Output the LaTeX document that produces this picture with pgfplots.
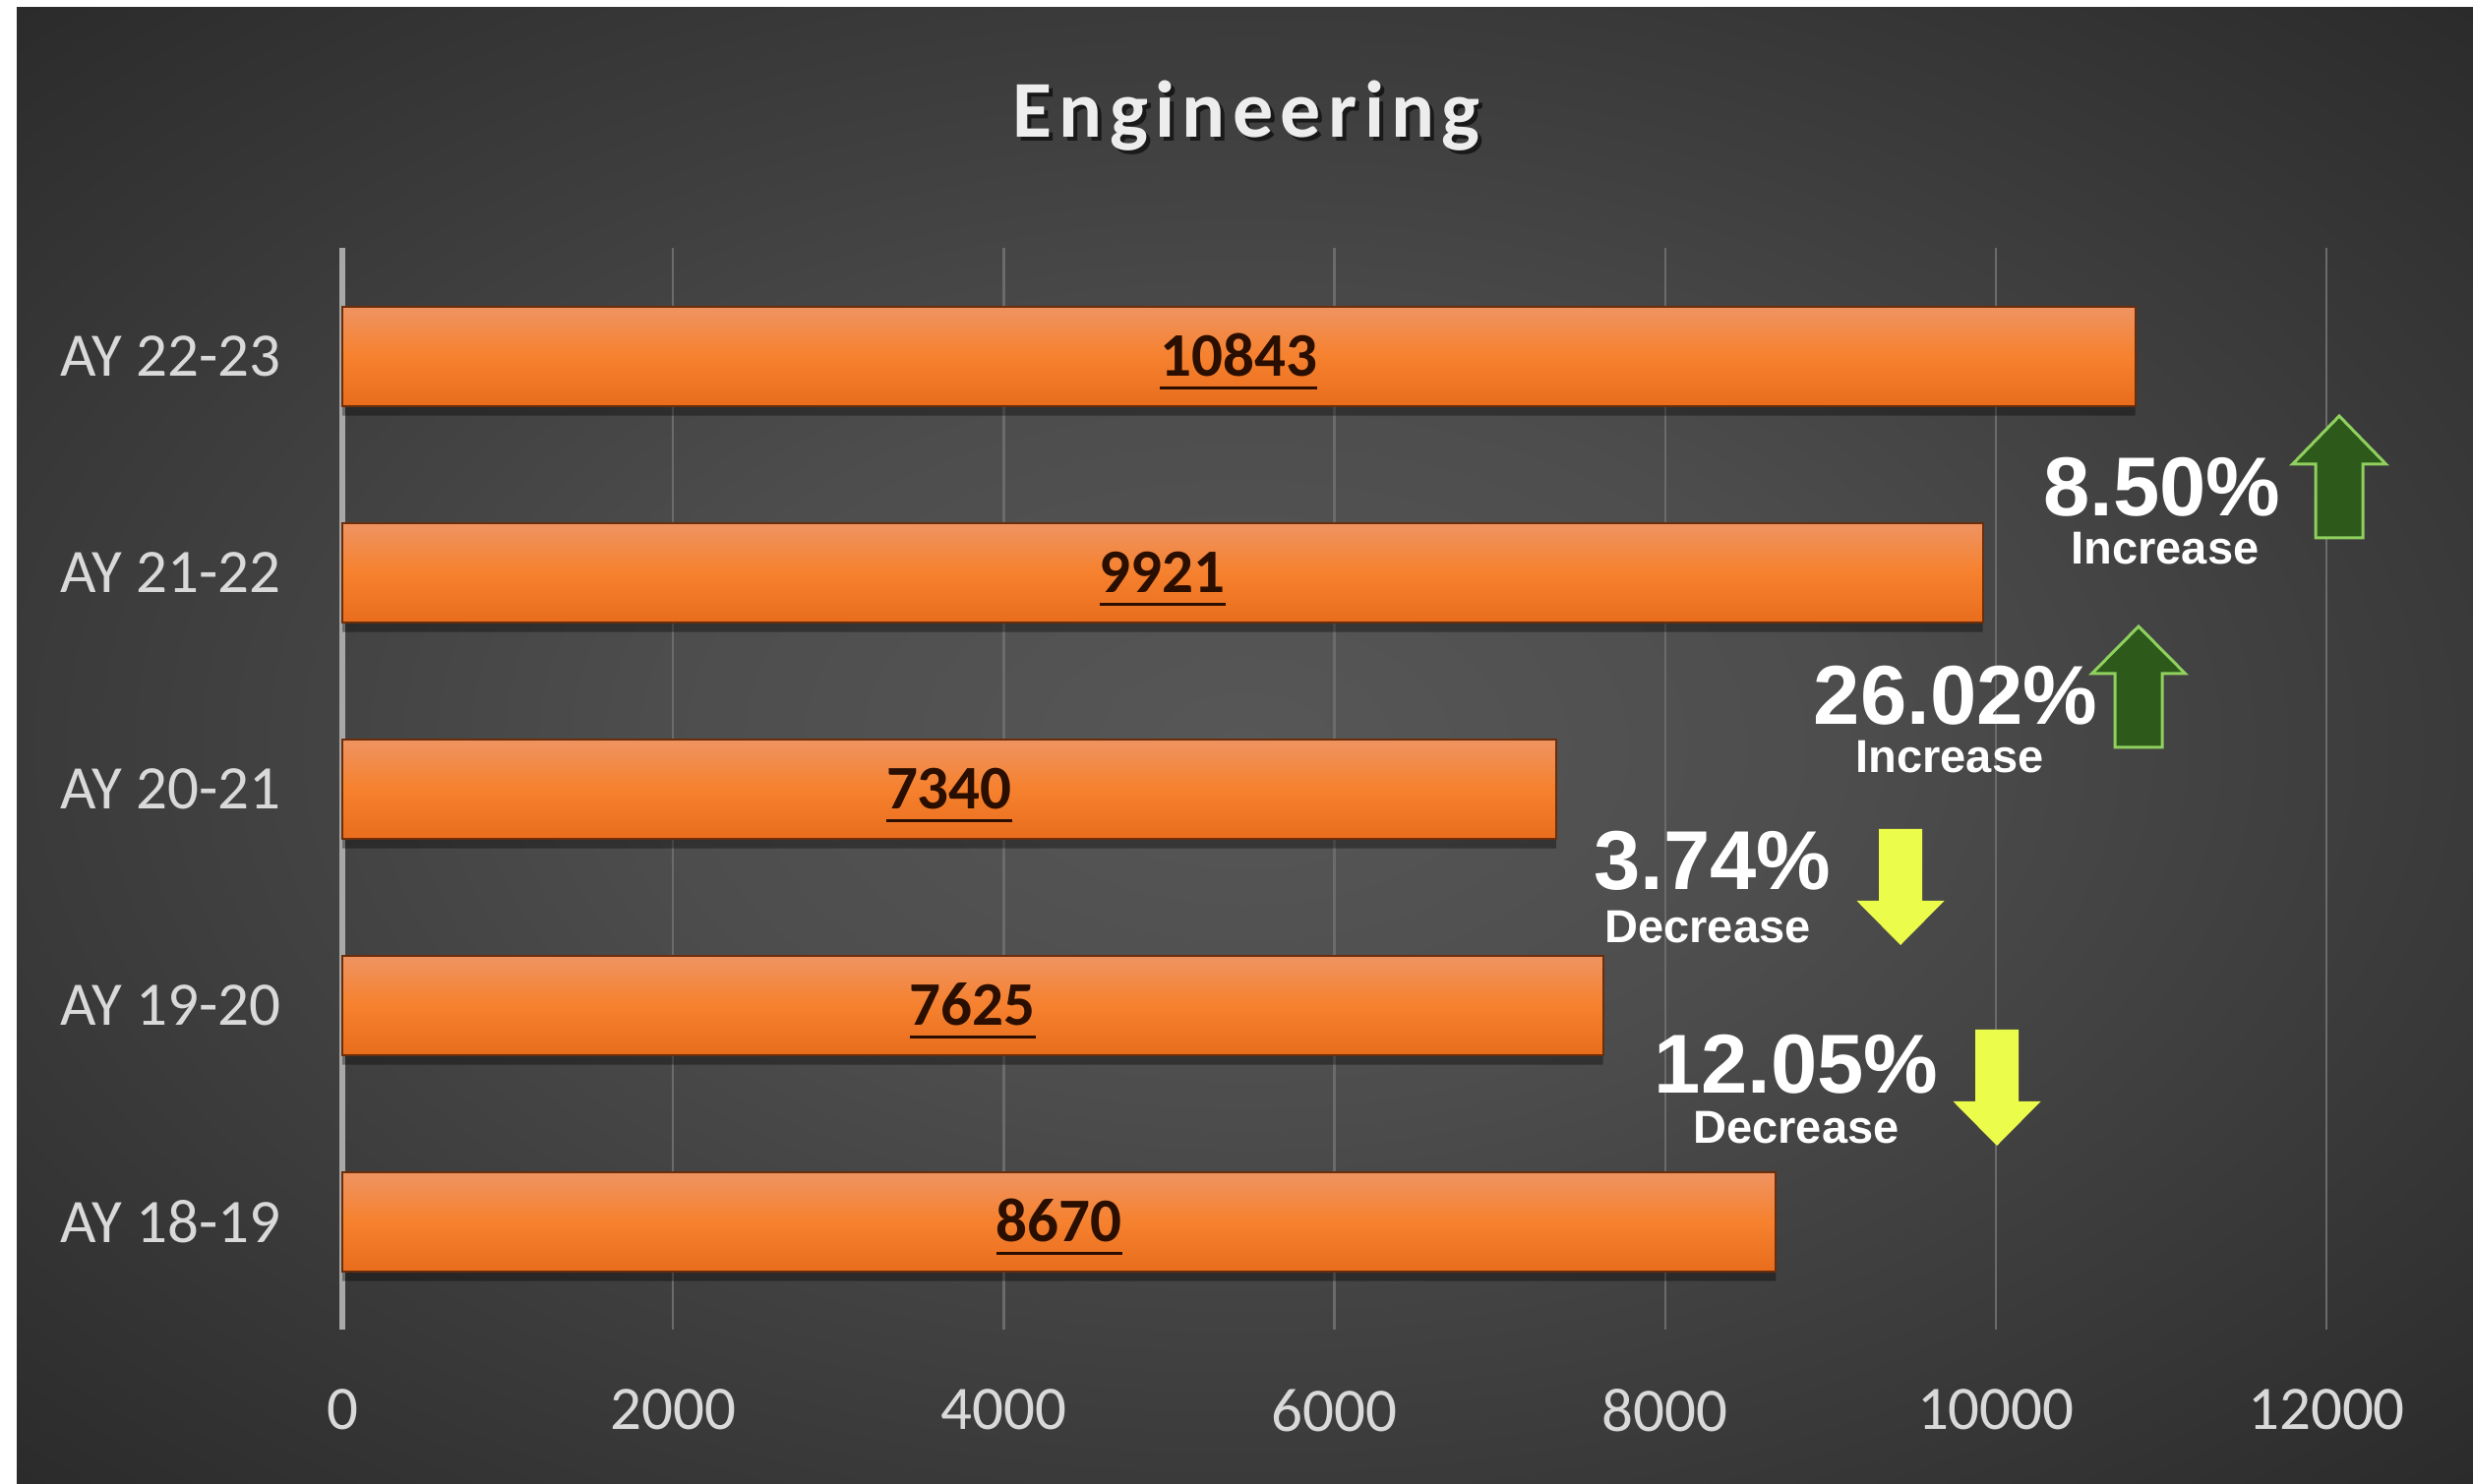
\documentclass[border=0pt]{standalone}
\usepackage{pgfplots}
\pgfplotsset{compat=1.18}
\usepackage{pgfplotstable}
\usepackage{fontspec}
\setmainfont{Carlito}
\newfontfamily\arialb{Liberation Sans}
\newfontfamily\titlefont[LetterSpace=9]{Carlito}

\definecolor{bgA}{HTML}{575757}
\definecolor{bgB}{HTML}{4D4D4D}
\definecolor{bgC}{HTML}{3A3A3A}
\definecolor{bgD}{HTML}{2A2A2A}
\definecolor{gridc}{HTML}{6B6B6B}
\definecolor{axisc}{HTML}{A8A8A8}
\definecolor{tickc}{HTML}{D9D9D9}
\definecolor{titlec}{HTML}{EDEDED}
\definecolor{bartop}{HTML}{EE9462}
\definecolor{barmid}{HTML}{F6812E}
\definecolor{barbot}{HTML}{E86D1C}
\definecolor{bardraw}{HTML}{6B2D0A}
\definecolor{labc}{HTML}{2A0E00}
\definecolor{greenfill}{HTML}{2D5A1B}
\definecolor{greenline}{HTML}{8FD05E}
\definecolor{yellowc}{HTML}{EBFC4A}

\pgfdeclareradialshading{bgshade}{\pgfpoint{0bp}{0bp}}{color(0bp)=(bgA); color(12bp)=(bgB); color(25bp)=(bgC); color(36bp)=(bgD); color(50bp)=(bgD)}

\newcommand\ticksize{\fontsize{18.9pt}{22pt}\selectfont}
\newcommand\labfont{\fontsize{18.9pt}{22pt}\selectfont\bfseries}
\newcommand\titlef{\titlefont\fontsize{24.6pt}{28pt}\selectfont\bfseries}
\newcommand\pctbig{\arialb\fontsize{25.5pt}{28pt}\selectfont\bfseries}
\newcommand\pctsmall{\arialb\fontsize{14.1pt}{16pt}\selectfont\bfseries}
\newcommand\ul[1]{\setbox0\hbox{#1}\rlap{\rule[-4.05pt]{\wd0}{0.9pt}}\box0}

\pgfplotstableread{
i v
0 8670
1 7625
2 7340
3 9921
4 10843
}\data

\begin{document}
\begin{tikzpicture}
\fill[white] (0,0) rectangle (754.2pt,452.4pt);
\shade[shading=bgshade] (5.1pt,0) rectangle (754.2pt,450pt);
\begin{axis}[
  at={(104.4pt,46.8pt)}, anchor=south west,
  scale only axis, width=605.1pt, height=330pt,
  xmin=0, xmax=12000, ymin=-0.5, ymax=4.5,
  scaled x ticks=false,
  axis line style={draw=none},
  major tick length=0pt,
  xtick={0,2000,...,12000},
  xticklabels={0,2000,4000,6000,8000,10000,12000},
  ytick={0,1,2,3,4},
  yticklabels={AY 18-19,AY 19-20,AY 20-21,AY 21-22,AY 22-23},
  xmajorgrids, major grid style={color=gridc, line width=0.7pt},
  ticklabel style={font=\ticksize, text=tickc, inner sep=0pt},
  xticklabel style={anchor=north, yshift=-18pt},
  yticklabel style={anchor=east, xshift=-18.6pt},
  clip=false,
]
\draw[color=axisc, line width=1.6pt] (axis cs:0,-0.5) -- (axis cs:0,4.5);
\addplot[xbar, bar width=30.3pt, bar shift=-3pt, fill=black, fill opacity=0.35, draw=none, forget plot] table[x=v,y=i]{\data};
\pgfplotsinvokeforeach{0,...,4}{
\addplot[xbar, bar width=30.3pt, bar shift=0pt, draw=bardraw, line width=0.6pt,
  top color=bartop, bottom color=barbot, middle color=barmid,
  restrict y to domain=#1:#1, forget plot] table[x=v,y=i]{\data};
}
\addplot[draw=none, mark=none, point meta=explicit symbolic,
  nodes near coords={\ul{\pgfplotspointmeta}},
  nodes near coords style={font=\labfont, text=labc, anchor=base, inner sep=0pt, yshift=-6pt}]
  table[x expr=\thisrow{v}/2, y=i, meta=v]{\data};
\end{axis}

% title
\node[anchor=base, font=\titlef, text=black, opacity=0.6] at (381.3pt,409.2pt) {Engineering};
\node[anchor=base, font=\titlef, text=titlec] at (380.1pt,410.4pt) {Engineering};

% annotations
\node[anchor=base, font=\pctbig, text=white, inner sep=0pt] at (659.4pt,294.9pt) {8.50\%};
\node[anchor=base, font=\pctsmall, text=white, inner sep=0pt] at (660.3pt,280.2pt) {Increase};
\node[anchor=base, font=\pctbig, text=white, inner sep=0pt] at (596.4pt,231.3pt) {26.02\%};
\node[anchor=base, font=\pctsmall, text=white, inner sep=0pt] at (594.6pt,216.6pt) {Increase};
\node[anchor=base, font=\pctbig, text=white, inner sep=0pt] at (522.3pt,180.9pt) {3.74\%};
\node[anchor=base, font=\pctsmall, text=white, inner sep=0pt] at (520.8pt,164.7pt) {Decrease};
\node[anchor=base, font=\pctbig, text=white, inner sep=0pt] at (547.8pt,118.8pt) {12.05\%};
\node[anchor=base, font=\pctsmall, text=white, inner sep=0pt] at (547.8pt,103.5pt) {Decrease};

% up arrows
\draw[fill=greenfill, draw=greenline, line width=0.9pt] (706.2pt,288.3pt) -- (706.2pt,310.8pt) -- (699.15pt,310.8pt) -- (713.4pt,325.5pt) -- (727.65pt,310.8pt) -- (720.6pt,310.8pt) -- (720.6pt,288.3pt) -- cycle;
\draw[fill=greenfill, draw=greenline, line width=0.9pt] (645.0pt,224.4pt) -- (645.0pt,246.9pt) -- (637.95pt,246.9pt) -- (652.2pt,261.3pt) -- (666.45pt,246.9pt) -- (659.4pt,246.9pt) -- (659.4pt,224.4pt) -- cycle;
% down arrows
\fill[yellowc] (573.0pt,199.5pt) -- (573.0pt,177.6pt) -- (566.25pt,177.6pt) -- (579.6pt,164.1pt) -- (592.95pt,177.6pt) -- (586.2pt,177.6pt) -- (586.2pt,199.5pt) -- cycle;
\fill[yellowc] (602.4pt,138.3pt) -- (602.4pt,116.4pt) -- (595.65pt,116.4pt) -- (609pt,102.9pt) -- (622.35pt,116.4pt) -- (615.6pt,116.4pt) -- (615.6pt,138.3pt) -- cycle;
\end{tikzpicture}
\end{document}
